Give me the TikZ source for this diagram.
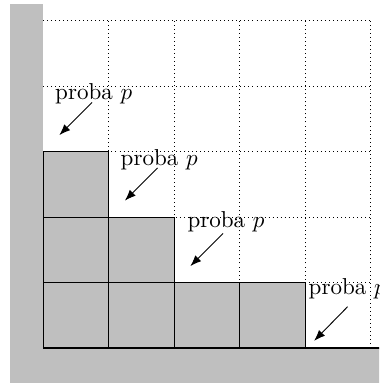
\documentclass[tikz,border=0pt]{standalone}
\usetikzlibrary{arrows.meta}
\begin{document}
\begin{tikzpicture}[
  cellbox/.style={draw=black, fill=gray!50, line width=0.4pt},
  wall/.style={fill=gray!50, draw=none},
  gridline/.style={dash pattern=on 0.4pt off 1.35pt, line width=0.4pt},
  arr/.style={-{Latex}, line width=0.4pt},
  lab/.style={anchor=base west, inner sep=0pt}
]
\clip (-0.656,-0.534) rectangle (5.13,5.313);
% dotted grid
\foreach \x in {1,...,5} \draw[gridline] (\x,0) -- (\x,5);
\foreach \y in {1,...,5} \draw[gridline] (0,\y) -- (5,\y);
% walls
\fill[wall] (-0.504,-0.7) rectangle (0,5.252);
\fill[wall] (-0.504,-0.7) rectangle (5.4,0);
% cells
\foreach \c/\h in {0/3,1/2,2/1,3/1}{
  \foreach \r in {1,...,\h}{
    \draw[cellbox] (\c,\r-1) rectangle (\c+1,\r);
  }
}
\draw[thick] (0,0) -- (5.4,0);
% labels
\node[lab] (l1) at (0.18,3.79) {proba $p$};
\node[lab] (l2) at (1.18,2.79) {proba $p$};
\node[lab] (l3) at (2.20,1.84) {proba $p$};
\node[lab] (l4) at (4.05,0.81) {proba $p$};
% arrows
\coordinate (a1s) at (0.75,3.75); \coordinate (a1e) at (0.25,3.25);
\coordinate (a2s) at (1.75,2.75); \coordinate (a2e) at (1.25,2.25);
\coordinate (a3s) at (2.75,1.75); \coordinate (a3e) at (2.25,1.25);
\coordinate (a4s) at (4.65,0.63); \coordinate (a4e) at (4.14,0.11);
\draw[arr] (a1s) -- (a1e);
\draw[arr] (a2s) -- (a2e);
\draw[arr] (a3s) -- (a3e);
\draw[arr] (a4s) -- (a4e);
\end{tikzpicture}
\end{document}
